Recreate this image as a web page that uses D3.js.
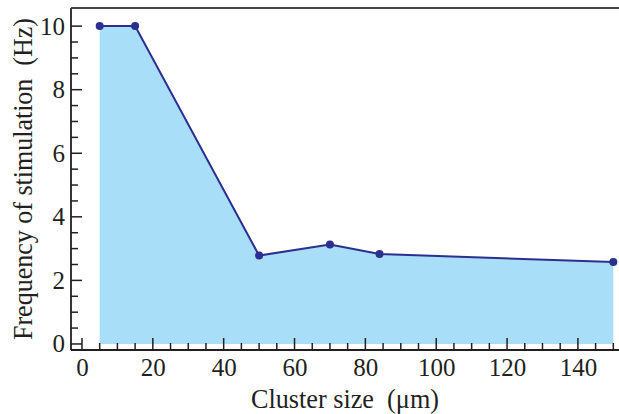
<!DOCTYPE html>
<html>
<head>
<meta charset="utf-8">
<script src="https://cdn.jsdelivr.net/npm/d3@7"></script>
<style>
  html, body { margin: 0; padding: 0; background: #fff; }
  svg { display: block; }
</style>
</head>
<body>
<svg id="chart" width="619" height="414"></svg>
<script>
const clusterSize = [5, 15, 50, 70, 84, 150];
const frequency = [10, 10, 2.78, 3.13, 2.83, 2.58];
const xTicks = [0, 20, 40, 60, 80, 100, 120, 140];
const yTicks = [0, 2, 4, 6, 8, 10];
const xLabel = "Cluster size  (\u03bcm)";
const yLabel = "Frequency of stimulation  (Hz)";

const W = 619, H = 414;
const mLeft = 71, mRight = 619, mTop = 8, mBottom = 350;
const fontFam = "'Liberation Serif'";
const axisColor = "#231f20";

function styleText(sel, size) {
  sel.style("font-family", fontFam).style("font-size", size + "px").attr("fill", axisColor);
}

const svg = d3.select("#chart");
const x = d3.scaleLinear().domain([-3.1, 151.6]).range([mLeft, mRight]);
const y = d3.scaleLinear().domain([-0.19, 10.57]).range([mBottom, mTop]);

const data = clusterSize.map((c, i) => ({ x: c, y: frequency[i] }));

svg.append("path")
  .datum(data)
  .attr("fill", "#a9def9")
  .attr("d", d3.area().x(d => x(d.x)).y0(y(0)).y1(d => y(d.y)));

svg.append("path")
  .datum(data)
  .attr("fill", "none")
  .attr("stroke", "#2b2f8f")
  .attr("stroke-width", 2)
  .attr("d", d3.line().x(d => x(d.x)).y(d => y(d.y)));

svg.selectAll("circle.pt").data(data).enter().append("circle")
  .attr("class", "pt")
  .attr("cx", d => x(d.x)).attr("cy", d => y(d.y)).attr("r", 4)
  .attr("fill", "#2b2f8f");

const xMinor = d3.range(0, 151, 5);
svg.append("g").selectAll("line").data(xMinor).enter().append("line")
  .attr("x1", d => x(d)).attr("x2", d => x(d))
  .attr("y1", mBottom).attr("y2", d => mBottom - (d % 20 === 0 ? 12 : 7))
  .attr("stroke", axisColor).attr("stroke-width", 1.5);

const yMinor = d3.range(0, 10.01, 0.5);
svg.append("g").selectAll("line").data(yMinor).enter().append("line")
  .attr("y1", d => y(d)).attr("y2", d => y(d))
  .attr("x1", mLeft).attr("x2", d => mLeft + (Math.abs(d % 2) < 1e-6 ? 11 : 7))
  .attr("stroke", axisColor).attr("stroke-width", 1.5);

const xAxis = d3.axisBottom(x).tickValues(xTicks).tickSize(0).tickPadding(8);
const gx = svg.append("g").attr("transform", `translate(0,${mBottom})`).call(xAxis);
gx.attr("font-family", "Liberation Serif").attr("font-size", 25);
gx.select(".domain").remove();
styleText(gx.selectAll("text"), 25);

const yAxis = d3.axisLeft(y).tickValues(yTicks).tickSize(0).tickPadding(6);
const gy = svg.append("g").attr("transform", `translate(${mLeft},0)`).call(yAxis);
gy.attr("font-family", "Liberation Serif").attr("font-size", 25);
gy.select(".domain").remove();
styleText(gy.selectAll("text"), 25);

svg.append("line").attr("x1", mLeft).attr("x2", mRight).attr("y1", mBottom).attr("y2", mBottom)
  .attr("stroke", axisColor).attr("stroke-width", 1.8);
svg.append("line").attr("x1", mLeft).attr("x2", mLeft).attr("y1", mTop).attr("y2", mBottom)
  .attr("stroke", axisColor).attr("stroke-width", 1.8);
svg.append("line").attr("x1", mLeft).attr("x2", mRight).attr("y1", mTop).attr("y2", mTop)
  .attr("stroke", "#444").attr("stroke-width", 1.8);

styleText(svg.append("text")
  .attr("x", 251).attr("y", 408)
  .attr("textLength", 188).attr("lengthAdjust", "spacingAndGlyphs")
  .style("white-space", "pre")
  .text(xLabel), 27);

styleText(svg.append("text")
  .attr("transform", `translate(32,340) rotate(-90)`)
  .attr("textLength", 322).attr("lengthAdjust", "spacingAndGlyphs")
  .style("white-space", "pre")
  .text(yLabel), 27);
</script>
</body>
</html>
